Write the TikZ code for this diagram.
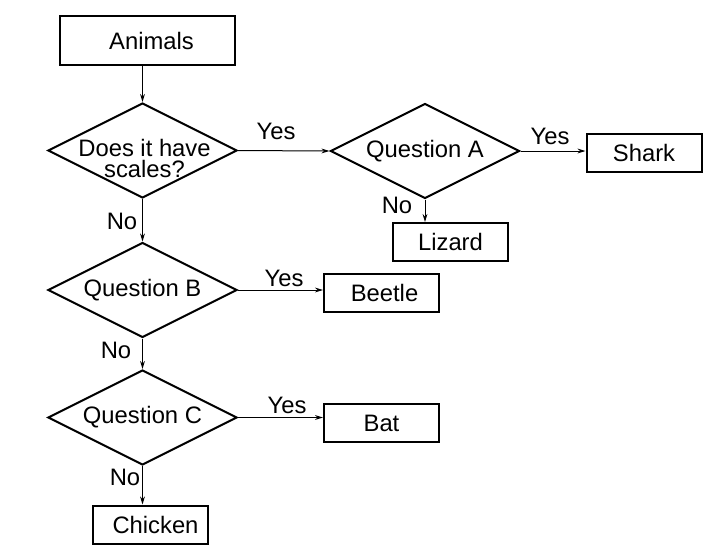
\documentclass[tikz,border=0pt]{standalone}
\usepackage{fontspec}
\setmainfont{Liberation Sans}
\usetikzlibrary{shapes.geometric, arrows.meta}
\tikzstyle{startstop} = [rectangle, minimum width=87.5pt, minimum height=24.5pt, inner sep=0pt, text centered, draw=black, line width=1pt]
\tikzstyle{decision} = [diamond, aspect=2, minimum width=94.5pt, minimum height=47.5pt, inner sep=0pt, text centered, draw=black, line width=1pt]
\tikzstyle{animal} = [rectangle, minimum width=57.5pt, minimum height=19pt, inner sep=0pt, text centered, draw=black, line width=1pt]
\tikzstyle{answer} = [inner sep=0pt]
\tikzstyle{arrow} = [line width=0.5pt, -{Stealth[length=4pt, width=2.4pt]}]

\begin{document}
\begin{tikzpicture}[x=0.5pt, y=-0.5pt, font=\fontsize{11.9}{10.5}\selectfont]
\useasboundingbox (0,0) rectangle (712,553);

\node (animals) [startstop] at (147.5,40.5) {\hspace{4pt}Animals};
\node (scales) [decision, label={[align=center, xshift=1pt, yshift=-4pt]center:Does it have\\scales?}] at (142.5,150.5) {};
\node (question a) [decision] at (425,151) {Question A};
\node (shark) [animal] at (644,153) {Shark};
\node (lizard) [animal] at (450.5,242) {Lizard};

\node (question b) [decision] at (142.5,290) {Question B};
\node (beetle) [animal] at (381.5,293) {\hspace{3pt}Beetle};
\node (question c) [decision] at (142.5,417.5) {Question C};
\node (bat) [animal] at (381.5,423) {Bat};
\node (chicken) [animal] at (150.5,524.5) {\hspace{5pt}Chicken};

% yes / no labels
\node (yes a) [answer] at (276,131) {Yes};
\node (yes shark) [answer] at (550,136) {Yes};
\node (no lizard) [answer] at (397,205) {No};
\node (no b) [answer] at (122,221) {No};
\node (yes beetle) [answer] at (284,278) {Yes};
\node (no c) [answer] at (116,350) {No};
\node (yes bat) [answer] at (287,405) {Yes};
\node (no chicken) [answer] at (125,477) {No};

\draw [arrow] (scales.north |- animals.south) -- (scales.north);
\draw [arrow] (scales.east) -- (question a.west);
\draw [arrow] (question a.east) -- (question a.east -| shark.west);
\draw [arrow] (question a.south) -- (question a.south |- lizard.north);
\draw [arrow] (scales.south) -- (question b.north);
\draw [arrow] (question b.east) -- (question b.east -| beetle.west);
\draw [arrow] (question b.south) -- (question c.north);
\draw [arrow] (question c.east) -- (question c.east -| bat.west);
\draw [arrow] (question c.south) -- (question c.south |- chicken.north);

\end{tikzpicture}
\end{document}
